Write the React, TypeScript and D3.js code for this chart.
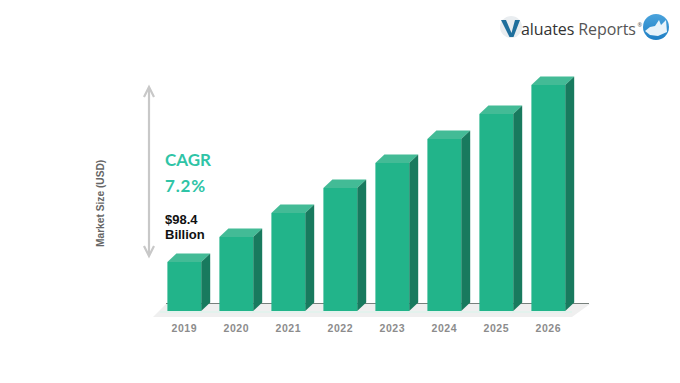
import React from "react";
import * as d3 from "d3";

const years = ["2019", "2020", "2021", "2022", "2023", "2024", "2025", "2026"];
// Relative bar heights (the chart has no value axis)
const barHeights = [49, 74, 98, 123, 148, 172, 197, 226];

const FRONT = "#22b48a";
const TOP = "#43bb96";
const SIDE = "#187a5e";
const SANS = "Liberation Sans, Arial, sans-serif";

export default function App() {
  const x = d3.scaleBand().domain(years).range([158.3, 574.3]).paddingInner(0.35).paddingOuter(0.175);
  const y = d3.scaleLinear().domain([0, 226]).range([311, 85]);
  const dx = 9;
  const dy = 8.5;
  const bw = x.bandwidth();
  return (
    <svg width={680} height={383} style={{ position: "absolute", left: 0, top: 0, background: "#fff" }}>
      <defs>
        <linearGradient id="logoBlue" x1="0" y1="0" x2="0" y2="1">
          <stop offset="0" stopColor="#4aa3dc" />
          <stop offset="1" stopColor="#1f7fc4" />
        </linearGradient>
      </defs>
      <polygon points="153,317 166,304 590,304 572,317" fill="#efefef" />
      <line x1={166} y1={303.5} x2={589} y2={303.5} stroke="#77807c" strokeWidth={1.2} />
      <line x1={160} y1={312} x2={572} y2={312} stroke="#dff3ec" strokeWidth={1.5} />
      {years.map((yr, i) => {
        const x0 = x(yr)!;
        const yt = y(barHeights[i]);
        const yb = y(0);
        return (
          <g key={yr}>
            <polygon points={`${x0},${yt} ${x0 + dx},${yt - dy} ${x0 + bw + dx},${yt - dy} ${x0 + bw},${yt}`} fill={TOP} />
            <polygon points={`${x0 + bw},${yt} ${x0 + bw + dx},${yt - dy} ${x0 + bw + dx},${yb - dy} ${x0 + bw},${yb}`} fill={SIDE} />
            <rect x={x0} y={yt} width={bw} height={yb - yt} fill={FRONT} />
            <text x={x0 + bw / 2} y={332} textAnchor="middle" fontFamily={SANS} fontWeight={700} fontSize={10.5} fill="#8c8c8c" letterSpacing={0.5}>{yr}</text>
          </g>
        );
      })}
      {/* double arrow */}
      <line x1={149} y1={89} x2={149} y2={254} stroke="#c8c8c8" strokeWidth={2.2} />
      <polyline points="144,97 149,87 154,97" fill="none" stroke="#c8c8c8" strokeWidth={2.2} />
      <polyline points="144,246 149,256 154,246" fill="none" stroke="#c8c8c8" strokeWidth={2.2} />
      <text transform="translate(104,247) rotate(-90)" fontFamily={SANS} fontWeight={700} fontSize={10.2} fill="#666">Market Size (USD)</text>
      <text x={165} y={166} fontFamily="Lato, sans-serif" fontWeight={700} fontSize={17} fill="#2fc4a6">CAGR</text>
      <text x={165} y={192} fontFamily="Lato, sans-serif" fontWeight={700} fontSize={17} letterSpacing={0.8} fill="#2fc4a6">7.2%</text>
      <text x={165} y={224} fontFamily={SANS} fontWeight={700} fontSize={13} fill="#111">$98.4</text>
      <text x={165} y={239} fontFamily={SANS} fontWeight={700} fontSize={13} fill="#111">Billion</text>
      {/* logo */}
      <circle cx={511} cy={27} r={11} fill="#e9edf0" />
      <polygon points="501,20 506,20 511.5,33 515,20 520,20 513.5,37 509.5,37" fill="#1f6f9c" />
      <text x={521} y={35} fontFamily="Open Sans, sans-serif" fontSize={16} fill="#333" letterSpacing={-0.1}>aluates <tspan fill="#555">Reports</tspan></text>
      <text x={637.5} y={27} fontFamily="Open Sans, sans-serif" fontSize={5.5} fill="#555">®</text>
      <circle cx={656} cy={27} r={13} fill="url(#logoBlue)" />
      <polygon points="645,31 650,27 655,26 659,20 661,25 666,20 667,32 658,36 650,35" fill="#e8f3fa" />
    </svg>
  );
}
